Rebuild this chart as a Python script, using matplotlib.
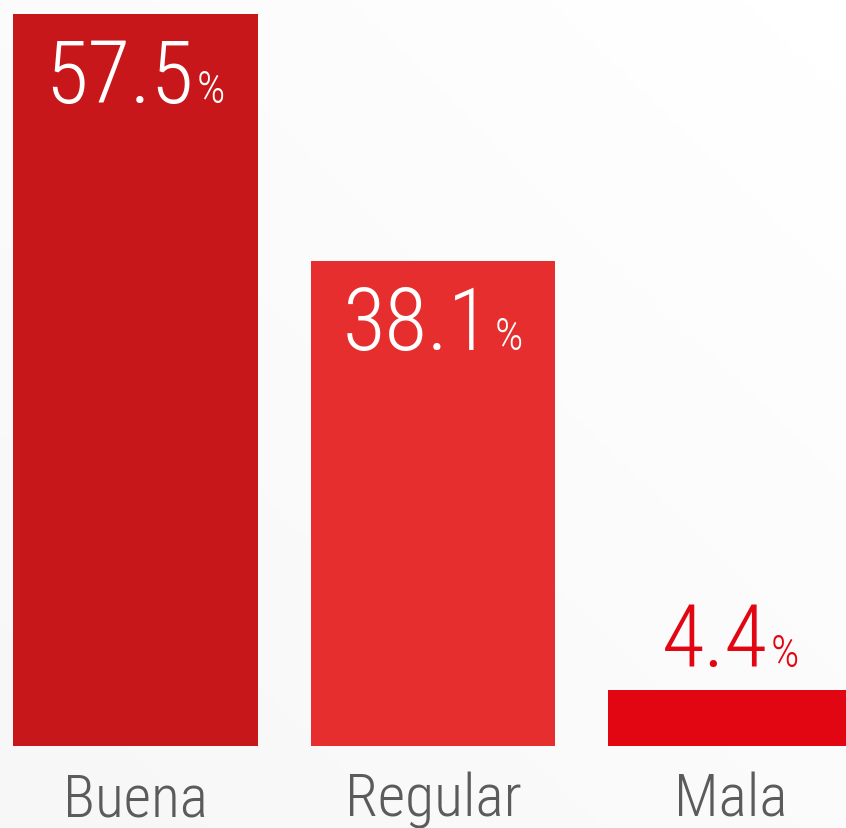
import numpy as np
import matplotlib
matplotlib.use("Agg")
import matplotlib.pyplot as plt
from matplotlib import font_manager

categories = ["Buena", "Regular", "Mala"]
values = [57.5, 38.1, 4.4]
bar_colors = ["#C8171A", "#E62E2E", "#E10612"]
label_colors = ["white", "white", "#E10612"]

# pick a narrow font if there is one
names = {f.name for f in font_manager.fontManager.ttflist}
cands = ["Roboto Condensed", "PT Sans Narrow", "Open Sans Condensed", "DejaVu Sans"]
font = [c for c in cands if c in names][0]

fig = plt.figure(figsize=(8.46, 8.29), dpi=100)

# very light grey background, white to the top right
bg = fig.add_axes([0, 0, 1, 1], zorder=0)
gx, gy = np.meshgrid(np.linspace(0, 1, 200), np.linspace(0, 1, 200))
grad = np.clip((gx + (1 - gy)) / 2, 0, 1)
bg.imshow(grad, cmap="Greys_r", vmin=-14, vmax=1, extent=[0, 1, 0, 1], aspect="auto", origin="upper")
bg.axis("off")

ax = fig.add_axes([0, 0, 1, 1], zorder=1)
ax.patch.set_alpha(0)
x = np.arange(len(categories))
ax.bar(x, values, width=0.823, color=bar_colors)
ax.set_xlim(-0.455, 2.388)
ax.set_ylim(-6.44, 58.68)
ax.axis("off")

fig.canvas.draw()
r = fig.canvas.get_renderer()
for i, (v, c) in enumerate(zip(values, label_colors)):
    # number + small percent sign, centred together
    off = -88 if v > 10 else 24
    num = ax.annotate(f"{v}", (x[i], v), xytext=(0, 0), textcoords="offset pixels",
                      ha="left", va="baseline", fontsize=63, color=c, family=font,
                      fontweight="light")
    pct = ax.annotate("%", (x[i], v), xytext=(0, 0), textcoords="offset pixels",
                      ha="left", va="baseline", fontsize=32, color=c, family=font,
                      fontweight="light")
    w1 = num.get_window_extent(r).width
    w2 = pct.get_window_extent(r).width
    gap = 3
    total = w1 + w2 + gap
    num.xyann = (-total / 2, off)
    pct.xyann = (-total / 2 + w1 + gap, off)
    ax.annotate(categories[i], (x[i], 0), xytext=(0, -69), textcoords="offset pixels",
                ha="center", va="baseline", fontsize=43, color="#5B5B5B", family=font,
                fontweight="light")

fig.savefig("out.png", dpi=100)
